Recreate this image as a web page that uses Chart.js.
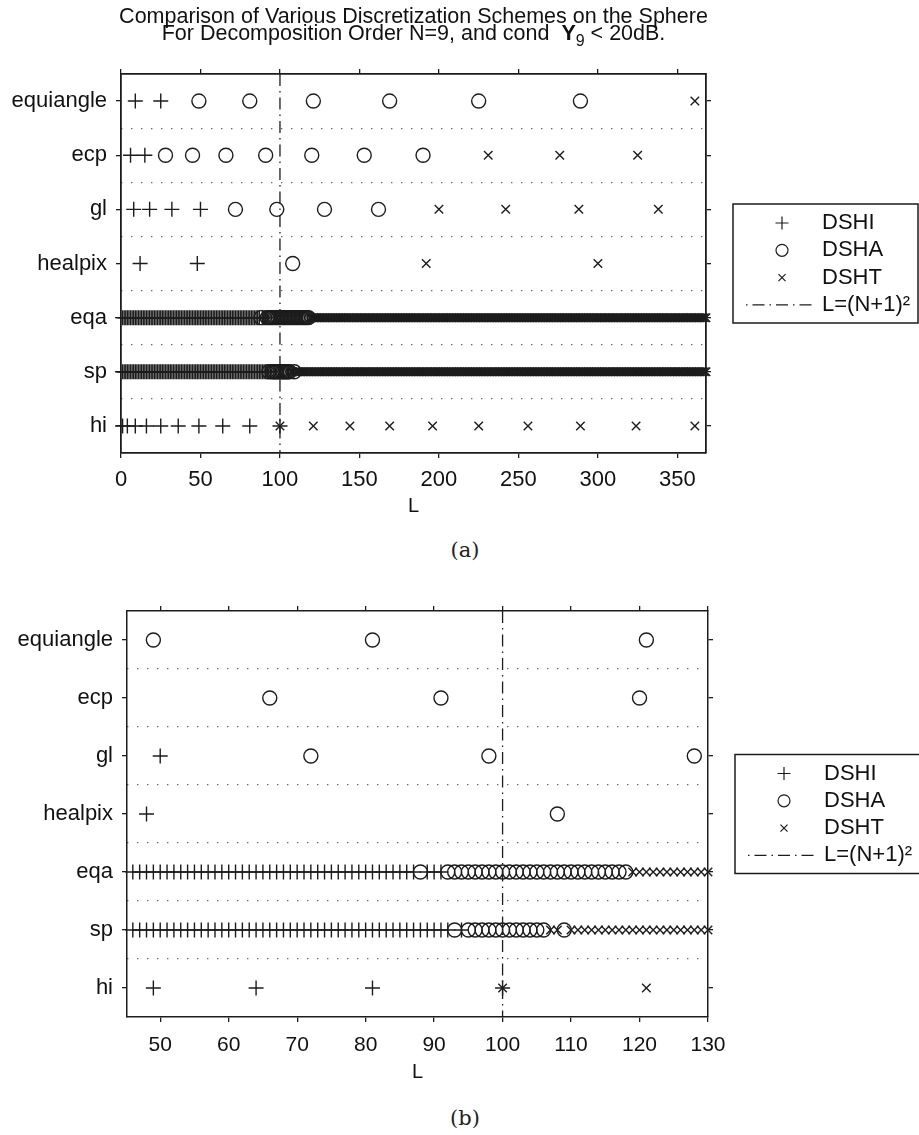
<!DOCTYPE html>
<html>
<head>
<meta charset="utf-8">
<title>Discretization schemes on the sphere</title>
<script src="https://cdn.jsdelivr.net/npm/chart.js@4.4.1/dist/chart.umd.min.js"></script>
<style>
  html, body { margin: 0; padding: 0; background: #fff; }
  body { width: 919px; height: 1135px; position: relative; overflow: hidden; }
  .panel { position: absolute; left: 0; }
  .caption { position: absolute; left: 415px; width: 100px; text-align: center;
             font: 21px 'DejaVu Serif', 'Liberation Serif', serif; color: #222; }
</style>
</head>
<body>
<canvas id="chart-a" class="panel" width="919" height="518" style="top:0"></canvas>
<div class="caption" style="top:538px">(a)</div>
<canvas id="chart-b" class="panel" width="919" height="524" style="top:560px"></canvas>
<div class="caption" style="top:1106px">(b)</div>

<script>
const N = 9;
const lCrit = (N + 1) ** 2;   // L = (N+1)^2

const schemes = ['equiangle', 'ecp', 'gl', 'healpix', 'eqa', 'sp', 'hi'];

// number of sample points L for each scheme, split by design type
// I = DSHI, A = DSHA, T = DSHT
const equiangleI = [9, 25];
const equiangleA = [49, 81, 121, 169, 225, 289];
const equiangleT = [361];
const ecpI = [6, 15];
const ecpA = [28, 45, 66, 91, 120, 153, 190];
const ecpT = [231, 276, 325];
const glI = [8, 18, 32, 50];
const glA = [72, 98, 128, 162];
const glT = [200, 242, 288, 338];
const healpixI = [12, 48];
const healpixA = [108];
const healpixT = [192, 300];
const hiI = [1, 4, 9, 16, 25, 36, 49, 64, 81, 100];
const hiT = [100, 121, 144, 169, 196, 225, 256, 289, 324, 361];
// eqa and sp exist for every L, kept as runs [type, first L, last L]
const eqaRuns = [['I', 1, 87], ['A', 88, 88], ['I', 89, 91], ['A', 92, 118], ['T', 119, 368]];
const spRuns  = [['I', 1, 92], ['A', 93, 93], ['I', 94, 94], ['A', 95, 106], ['T', 107, 108], ['A', 109, 109], ['T', 110, 368]];

const xTicksA = [0, 50, 100, 150, 200, 250, 300, 350];
const xTicksB = [50, 60, 70, 80, 90, 100, 110, 120, 130];

const ink = '#1c1c1c';
const sans = "'Liberation Sans', Arial, Helvetica, sans-serif";
Chart.defaults.font.family = sans;
Chart.defaults.color = '#111';

const fromRuns = (runs, type) => runs.filter(r => r[0] === type)
  .flatMap(([, a, b]) => Array.from({ length: b - a + 1 }, (_, k) => a + k));

const byType = {
  I: { equiangle: equiangleI, ecp: ecpI, gl: glI, healpix: healpixI, eqa: fromRuns(eqaRuns, 'I'), sp: fromRuns(spRuns, 'I'), hi: hiI },
  A: { equiangle: equiangleA, ecp: ecpA, gl: glA, healpix: healpixA, eqa: fromRuns(eqaRuns, 'A'), sp: fromRuns(spRuns, 'A'), hi: [] },
  T: { equiangle: equiangleT, ecp: ecpT, gl: glT, healpix: healpixT, eqa: fromRuns(eqaRuns, 'T'), sp: fromRuns(spRuns, 'T'), hi: hiT },
};

// markers whose centre falls outside the x limits are left out
const pointsFor = (type, lo, hi) => {
  const pts = [];
  schemes.forEach((name, i) => {
    byType[type][name].forEach(L => { if (L >= lo && L <= hi) pts.push({ x: L, y: i + 1 }); });
  });
  return pts;
};

const markers = [
  { label: 'DSHI', type: 'I', style: 'cross',    r: 7.5, lr: 6.5 },
  { label: 'DSHA', type: 'A', style: 'circle',   r: 7,   lr: 6 },
  { label: 'DSHT', type: 'T', style: 'crossRot', r: 6,   lr: 5 },
];
const dashDot = [12, 5, 1.5, 5];

// boxed legend to the right of the axes
const boxLegend = {
  id: 'boxLegend',
  afterDraw(chart) {
    const { ctx, chartArea: a } = chart;
    const w = 185, h = 119;
    const x0 = a.right + 27, y0 = (a.top + a.bottom) / 2 - h / 2;
    ctx.save();
    ctx.strokeStyle = ink;
    ctx.lineWidth = 1.5;
    ctx.strokeRect(x0, y0, w, h);
    ctx.font = `22px ${sans}`;
    ctx.textBaseline = 'middle';
    ctx.lineWidth = 1.2;
    markers.forEach((m, i) => {
      const y = y0 + 19 + i * 27.3;
      ctx.fillStyle = 'rgba(0,0,0,0)';
      Chart.helpers.drawPoint(ctx, { pointStyle: m.style, radius: m.lr, borderWidth: 1.2, rotation: 0 }, x0 + 49, y);
      ctx.fillStyle = '#111';
      ctx.fillText(m.label, x0 + 89, y);
    });
    const yl = y0 + 19 + 3 * 27.3;
    ctx.setLineDash(dashDot);
    ctx.lineDashOffset = 17;
    ctx.beginPath();
    ctx.moveTo(x0 + 13, yl);
    ctx.lineTo(x0 + 83, yl);
    ctx.stroke();
    ctx.setLineDash([]);
    ctx.fillText('L=(N+1)\u00B2', x0 + 89, yl);
    ctx.restore();
  }
};

// two-line figure title with a bold, subscripted Y
const figTitle = {
  id: 'figTitle',
  afterDraw(chart, args, opts) {
    if (!opts.show) return;
    const { ctx, chartArea: a } = chart;
    const cx = (a.left + a.right) / 2;
    const f = `21.5px ${sans}`;
    ctx.save();
    ctx.fillStyle = '#111';
    ctx.textBaseline = 'alphabetic';
    ctx.textAlign = 'center';
    ctx.font = f;
    ctx.fillText('Comparison of Various Discretization Schemes on the Sphere', cx, 23);
    const parts = [
      [`For Decomposition Order N=${N}, and cond  `, f, 0],
      ['Y', `bold 21.5px ${sans}`, 0],
      ['9', `16px ${sans}`, 6],
      [' < 20dB.', f, 0],
    ];
    const widths = parts.map(([t, font]) => { ctx.font = font; return ctx.measureText(t).width; });
    let x = cx - widths.reduce((s, v) => s + v, 0) / 2;
    ctx.textAlign = 'left';
    parts.forEach(([t, font, dy], i) => {
      ctx.font = font;
      ctx.fillText(t, x, 40 + dy);
      x += widths[i];
    });
    ctx.restore();
  }
};

const makeChart = (id, cfg) => {
  const { lo, hi, ticks, left, rightPad, topPad, axisH, tickFont, tickPad, border, title } = cfg;
  const tickGrid = { drawOnChartArea: false, drawTicks: true, tickLength: 5, color: ink, lineWidth: 1.3 };
  const axisBorder = { display: true, color: ink, width: border };
  const xCommon = {
    type: 'linear', min: lo, max: hi,
    afterBuildTicks: s => { s.ticks = ticks.map(v => ({ value: v })); },
    grid: tickGrid, border: axisBorder,
  };
  const yCommon = {
    type: 'linear', min: 0.5, max: 7.5, reverse: true,
    afterBuildTicks: s => { s.ticks = schemes.map((_, i) => ({ value: i + 1 })); },
    grid: tickGrid, border: axisBorder,
  };
  return new Chart(document.getElementById(id), {
    type: 'scatter',
    data: {
      datasets: [
        ...markers.map(m => ({
          label: m.label,
          data: pointsFor(m.type, lo, hi),
          pointStyle: m.style,
          pointRadius: m.r,
          pointBorderWidth: 1.4,
          pointBorderColor: ink,
          pointBackgroundColor: 'rgba(0,0,0,0)',
          clip: 10,
        })),
        {
          label: 'L=(N+1)\u00B2',
          data: [{ x: lCrit, y: 0.5 }, { x: lCrit, y: 7.5 }],
          showLine: true,
          borderColor: ink,
          borderWidth: 1.3,
          borderDash: dashDot,
          pointRadius: 0,
        },
      ],
    },
    options: {
      responsive: false,
      animation: false,
      events: [],
      layout: { padding: { top: topPad, right: rightPad, left: 0, bottom: 0 } },
      plugins: { legend: { display: false }, tooltip: { enabled: false }, figTitle: { show: title } },
      scales: {
        x: {
          ...xCommon, position: 'bottom',
          ticks: { font: { size: tickFont }, padding: tickPad, color: '#111' },
          title: { display: true, text: 'L', font: { size: 20 }, padding: 0, color: '#111' },
          afterFit: s => { s.height = axisH; },
        },
        x2: {
          ...xCommon, position: 'top',
          ticks: { display: false },
          afterFit: s => { s.height = 5; },
        },
        y: {
          ...yCommon, position: 'left',
          ticks: { font: { size: 22 }, padding: 9, color: '#111', callback: v => schemes[v - 1] },
          afterFit: s => { s.width = left; },
        },
        y2: {
          ...yCommon, position: 'right',
          ticks: { display: false },
          afterFit: s => { s.width = 5; },
        },
        // dotted separators between the scheme rows
        rows: {
          type: 'linear', min: 0.5, max: 7.5, reverse: true, position: 'left',
          afterBuildTicks: s => { s.ticks = schemes.slice(1).map((_, i) => ({ value: i + 1.5 })); },
          ticks: { display: false },
          grid: { drawTicks: false, color: '#666', lineWidth: 1.2 },
          border: { display: false, dash: [1.4, 8.6] },
          afterFit: s => { s.width = 0; },
        },
      },
    },
    plugins: [boxLegend, figTitle],
  });
};

makeChart('chart-a', {
  lo: 0, hi: 368, ticks: xTicksA, left: 121, rightPad: 208, topPad: 69,
  axisH: 65, tickFont: 22, tickPad: 9, border: 1.8, title: true,
});

makeChart('chart-b', {
  lo: 45.15, hi: 130, ticks: xTicksB, left: 127, rightPad: 206, topPad: 46,
  axisH: 67, tickFont: 21, tickPad: 11, border: 1.5, title: false,
});
</script>
</body>
</html>
